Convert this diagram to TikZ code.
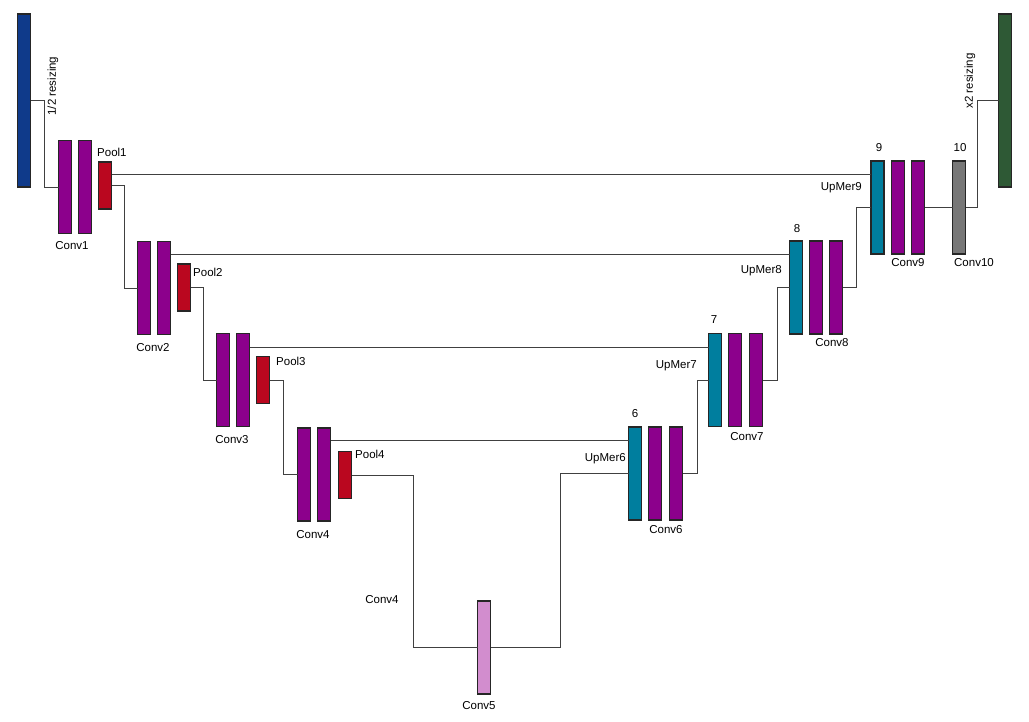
\documentclass[tikz,border=0pt]{standalone}
\usepackage{fontspec}
\setmainfont{Liberation Sans}
\begin{document}
\begin{tikzpicture}[x=1pt,y=-1pt,
  bar/.style={draw=black!85,line width=1.3pt,minimum width=13pt,inner sep=0pt,outer sep=0pt},
  full/.style={bar,minimum height=93pt},
  half/.style={bar,minimum height=47pt},
  conv/.style={full,fill=cPurple},
  up/.style={full,fill=cTeal},
  pool/.style={half,fill=cRed},
  wire/.style={draw=black!75,line width=0.9pt},
  lab/.style={font=\fontsize{11.5}{13}\selectfont,inner sep=0pt}]
\definecolor{cBlue}{HTML}{0F3A8A}
\definecolor{cPurple}{HTML}{8C008C}
\definecolor{cRed}{HTML}{BA071F}
\definecolor{cTeal}{HTML}{007E9E}
\definecolor{cGray}{HTML}{777777}
\definecolor{cGreen}{HTML}{2E5935}
\definecolor{cPlum}{HTML}{D28DCE}
\useasboundingbox (0,0) rectangle (1029,721);
% bars
\node[bar,minimum height=173pt,fill=cBlue] (in) at (24,100.5) {};
\node[conv] (c1a) at (65,187) {};
\node[conv] (c1b) at (85,187) {};
\node[pool] (p1) at (105,185.5) {};
\node[conv] (c2a) at (144,288) {};
\node[conv] (c2b) at (164,288) {};
\node[pool] (p2) at (184,287.5) {};
\node[conv] (c3a) at (223,380) {};
\node[conv] (c3b) at (243,380) {};
\node[pool] (p3) at (263,380) {};
\node[conv] (c4a) at (304,474.5) {};
\node[conv] (c4b) at (324,474.5) {};
\node[pool] (p4) at (345,475) {};
\node[full,fill=cPlum] (c5) at (484,647.5) {};
\node[up] (u6) at (635,473.5) {};
\node[conv] (c6a) at (655,473.5) {};
\node[conv] (c6b) at (676,473.5) {};
\node[up] (u7) at (715,380) {};
\node[conv] (c7a) at (735,380) {};
\node[conv] (c7b) at (756,380) {};
\node[up] (u8) at (796,287.5) {};
\node[conv] (c8a) at (816,287.5) {};
\node[conv] (c8b) at (836,287.5) {};
\node[up] (u9) at (877.5,207.5) {};
\node[conv] (c9a) at (898,207.5) {};
\node[conv] (c9b) at (918,207.5) {};
\node[full,fill=cGray] (c10) at (959,207.5) {};
\node[bar,minimum height=173pt,fill=cGreen] (out) at (1005,100.5) {};
% junction columns
\coordinate (j0) at (44,0);
\coordinate (j1) at (124,0);
\coordinate (j2) at (203,0);
\coordinate (j3) at (283,0);
\coordinate (j4) at (413,0);
\coordinate (j5) at (560,0);
\coordinate (j6) at (697,0);
\coordinate (j7) at (777,0);
\coordinate (j8) at (856,0);
\coordinate (j9) at (977,0);
% skip rows
\coordinate (s1) at (0,174);
\coordinate (s2) at (0,254);
\coordinate (s3) at (0,347);
\coordinate (s4) at (0,440);
% connectors
\draw[wire] (in.east) -- (in.east -| j0) |- (c1a.west);
\draw[wire] (p1.east) -- (p1.east -| j1) |- (c2a.west);
\draw[wire] (p2.east) -- (p2.east -| j2) |- (c3a.west);
\draw[wire] (p3.east) -- (p3.east -| j3) |- (c4a.west);
\draw[wire] (p4.east) -- (p4.east -| j4) |- (c5.west);
\draw[wire] (c5.east) -- (c5.east -| j5) |- (u6.west);
\draw[wire] (c6b.east) -- (c6b.east -| j6) |- (u7.west);
\draw[wire] (c7b.east) -- (c7b.east -| j7) |- (u8.west);
\draw[wire] (c8b.east) -- (c8b.east -| j8) |- (u9.west);
\draw[wire] (c9b.east) -- (c10.west);
\draw[wire] (c10.east) -- (c10.east -| j9) |- (out.west);
% skip connections
\draw[wire] (p1.east |- s1) -- (u9.west |- s1);
\draw[wire] (c2b.east |- s2) -- (u8.west |- s2);
\draw[wire] (c3b.east |- s3) -- (u7.west |- s3);
\draw[wire] (c4b.east |- s4) -- (u6.west |- s4);
% labels
\node[lab] (tc1) at (72,246) {Conv1};
\node[lab] (tc2) at (153,348) {Conv2};
\node[lab] (tc3) at (232,440) {Conv3};
\node[lab] (tc4) at (313,535) {Conv4};
\node[lab] (tc4b) at (382,600) {Conv4};
\node[lab] (tc5) at (479,706) {Conv5};
\node[lab] (tc6) at (666,530) {Conv6};
\node[lab] (tc7) at (747,437) {Conv7};
\node[lab] (tc8) at (832,343) {Conv8};
\node[lab] (tc9) at (908,263) {Conv9};
\node[lab] (tc10) at (974,263) {Conv10};
\node[lab,anchor=west] (tp1) at (97,152) {Pool1};
\node[lab,anchor=west] (tp2) at (193,272) {Pool2};
\node[lab,anchor=west] (tp3) at (276,361) {Pool3};
\node[lab,anchor=west] (tp4) at (355,454) {Pool4};
\node[lab,anchor=east] (tu6) at (626,459) {UpMer6};
\node[lab,anchor=east] (tu7) at (697,366) {UpMer7};
\node[lab,anchor=east] (tu8) at (782,271) {UpMer8};
\node[lab,anchor=east] (tu9) at (862,188) {UpMer9};
\node[lab] (n6) at (635,414) {6};
\node[lab] (n7) at (714,320) {7};
\node[lab] (n8) at (797,229) {8};
\node[lab] (n9) at (879,148) {9};
\node[lab] (n10) at (960,148) {10};
\node[lab,rotate=90] (r1) at (53,86) {1/2 resizing};
\node[lab,rotate=90] (r2) at (970,81) {x2 resizing};
\end{tikzpicture}
\end{document}
